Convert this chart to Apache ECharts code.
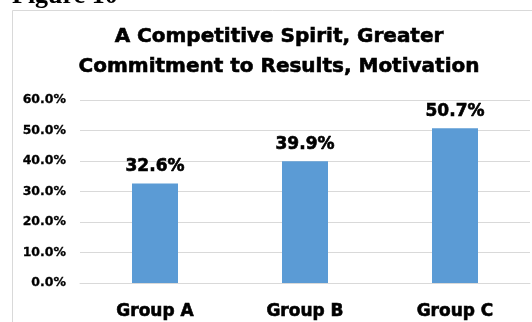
<!DOCTYPE html>
<html>
<head>
<meta charset="utf-8">
<script src="https://cdn.jsdelivr.net/npm/echarts@6/dist/echarts.min.js"></script>
<style>
  html, body { margin: 0; padding: 0; background: #fff; }
  #chart { width: 532px; height: 322px; }
</style>
</head>
<body>
<div id="chart"></div>
<script>
// Share of each group citing a competitive spirit / commitment / motivation
const categories = ['Group A', 'Group B', 'Group C'];
const values = [32.6, 39.9, 50.7];
const titleLines = ['A Competitive Spirit, Greater', 'Commitment to Results, Motivation'];
const figureLabel = 'Figure 10';

const FONT = '"DejaVu Sans", Verdana, sans-serif';
// a thin outline in the text colour gives the heavy, black lettering
const heavy = { textBorderColor: '#000', textBorderWidth: 0.6 };

const chart = echarts.init(document.getElementById('chart'), null, { renderer: 'canvas' });

chart.setOption({
  animation: false,
  backgroundColor: '#fff',
  graphic: [
    {
      type: 'rect',
      shape: { x: 12.5, y: 10.5, width: 560, height: 330 },
      style: { fill: 'none', stroke: '#d9d9d9', lineWidth: 1 },
      silent: true
    },
    {
      type: 'text',
      x: 12,
      y: -17,
      style: {
        text: figureLabel,
        font: 'bold 26px "Liberation Serif", "Times New Roman", serif',
        fill: '#000'
      }
    }
  ],
  title: {
    text: titleLines.join('\n'),
    left: 274,
    top: 17,
    textAlign: 'center',
    textStyle: Object.assign({
      fontFamily: FONT,
      fontWeight: 'bold',
      fontSize: 20,
      lineHeight: 30,
      color: '#000'
    }, heavy)
  },
  grid: { left: 80, right: 2, top: 100, bottom: 39, containLabel: false },
  xAxis: {
    type: 'category',
    data: categories,
    axisLine: { show: true, lineStyle: { color: '#d9d9d9' } },
    axisTick: { show: false },
    axisLabel: Object.assign({
      margin: 20,
      fontFamily: FONT,
      fontWeight: 'bold',
      fontSize: 17,
      color: '#000'
    }, heavy)
  },
  yAxis: {
    type: 'value',
    min: 0,
    max: 60,
    interval: 10,
    axisLine: { show: false },
    axisTick: { show: false },
    splitLine: { lineStyle: { color: '#d9d9d9', width: 1 } },
    axisLabel: {
      margin: 14,
      fontFamily: FONT,
      fontWeight: 'bold',
      fontSize: 12.5,
      color: '#000',
      textBorderColor: '#000',
      textBorderWidth: 0.3,
      formatter: v => v.toFixed(1) + '%'
    }
  },
  series: [{
    type: 'bar',
    data: values,
    barWidth: 46,
    itemStyle: { color: '#5b9bd5' },
    label: Object.assign({
      show: true,
      position: 'top',
      distance: 8,
      fontFamily: FONT,
      fontWeight: 'bold',
      fontSize: 17,
      color: '#000',
      formatter: p => p.value.toFixed(1) + '%'
    }, heavy)
  }]
});
</script>
</body>
</html>
